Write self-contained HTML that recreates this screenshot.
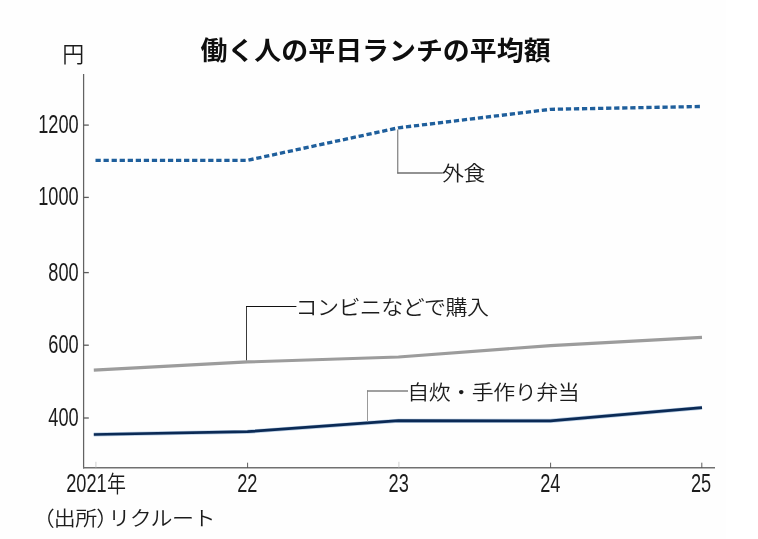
<!DOCTYPE html>
<html lang="ja">
<head>
<meta charset="utf-8">
<title>働く人の平日ランチの平均額</title>
<style>
  html, body { margin: 0; padding: 0; background: #ffffff; }
  body { width: 758px; height: 539px; overflow: hidden; }
  svg { display: block; will-change: transform; }
  .jp   { font-family: "Liberation Sans", "Noto Sans CJK JP", sans-serif; }
  .ttl  { font-weight: 700; font-size: 26.95px; fill: #0e0e0e; }
  .lbl  { font-weight: 350; font-size: 22px; letter-spacing: -0.5px; fill: #1c1c1c; }
  .num  { font-family: "Liberation Sans", sans-serif; font-size: 25px; fill: #1c1c1c; }
</style>
</head>
<body>
<svg width="758" height="539" viewBox="0 0 758 539">
  <rect x="0" y="0" width="758" height="539" fill="#ffffff"/>
  <rect x="0" y="0" width="725.5" height="539" fill="#fefefe"/>

  <!-- title -->
  <text class="jp ttl" transform="translate(200.5,59.6) scale(1,0.95)">働く人の平日ランチの平均額</text>

  <!-- unit -->
  <text class="jp lbl" transform="translate(62.2,62.3) scale(1,0.98)">円</text>

  <!-- axes -->
  <line x1="83.6" y1="74" x2="83.6" y2="468.6" stroke="#626262" stroke-width="1.25"/>
  <line x1="83" y1="467.8" x2="715" y2="467.8" stroke="#707070" stroke-width="1.6"/>
  <!-- y ticks -->
  <g stroke="#5c5c5c" stroke-width="1.3">
    <line x1="83.6" y1="125.1" x2="88.8" y2="125.1"/>
    <line x1="83.6" y1="197.4" x2="88.8" y2="197.4"/>
    <line x1="83.6" y1="272.6" x2="88.8" y2="272.6"/>
    <line x1="83.6" y1="345.2" x2="88.8" y2="345.2"/>
    <line x1="83.6" y1="418"   x2="88.8" y2="418"/>
  </g>
  <!-- x ticks -->
  <g stroke-width="0.8">
    <line x1="95.9"  y1="461.8" x2="95.9"  y2="467.6" stroke="#c4c4c4"/>
    <line x1="247.6" y1="462.7" x2="247.6" y2="467.6" stroke="#333"/>
    <line x1="398.9" y1="461.8" x2="398.9" y2="467.6" stroke="#c4c4c4"/>
    <line x1="550.6" y1="462.7" x2="550.6" y2="467.6" stroke="#333"/>
    <line x1="701.8" y1="462.7" x2="701.8" y2="467.6" stroke="#333"/>
  </g>

  <!-- y labels -->
  <g class="num" text-anchor="end">
    <text transform="translate(78.7,132.8) scale(0.728,1)">1200</text>
    <text transform="translate(78.7,205.4) scale(0.728,1)">1000</text>
    <text transform="translate(78.7,280.5) scale(0.728,1)">800</text>
    <text transform="translate(78.7,352.9) scale(0.728,1)">600</text>
    <text transform="translate(78.7,425.7) scale(0.728,1)">400</text>
  </g>

  <!-- x labels -->
  <g class="num" text-anchor="middle">
    <text transform="translate(247.3,492.2) scale(0.728,1)">22</text>
    <text transform="translate(398.7,492.2) scale(0.728,1)">23</text>
    <text transform="translate(550.3,492.2) scale(0.728,1)">24</text>
    <text transform="translate(701.1,492.2) scale(0.728,1)">25</text>
  </g>
  <text class="num" transform="translate(66.2,492.2) scale(0.728,1)">2021</text>
  <text class="jp lbl" style="font-size:23px;letter-spacing:0" transform="translate(107,491.6) scale(0.826,1)">年</text>

  <!-- source -->
  <text class="jp lbl" transform="translate(0,525.9) scale(1,0.93)"><tspan x="32.8">（</tspan><tspan x="53.7">出所</tspan><tspan x="96.2">）</tspan><tspan x="108.2">リクルート</tspan></text>

  <!-- series -->
  <polyline points="95,160.3 247.5,160.3 398.5,127.8 550.5,109.3 700.1,106.5"
            fill="none" stroke="#1f5f9c" stroke-width="3.35" stroke-dasharray="5.25 2.8" stroke-dashoffset="-0.5" stroke-linejoin="round"/>
  <polyline points="93.8,370.1 247.5,361.9 398.5,357 550.5,345.6 702,337.4"
            fill="none" stroke="#9c9c9c" stroke-width="3.1" stroke-linejoin="round"/>
  <polyline points="93.8,434.5 247.5,431.7 398.5,420.7 550.5,420.9 702,407.7"
            fill="none" stroke="#4a7fb8" stroke-opacity="0.4" stroke-width="4.1" stroke-linejoin="round"/>
  <polyline points="93.8,434.5 247.5,431.7 398.5,420.7 550.5,420.9 702,407.7"
            fill="none" stroke="#0b2a55" stroke-width="2.7" stroke-linejoin="round"/>

  <!-- leaders -->
  <line x1="397.75" y1="129.5" x2="397.75" y2="173.6" stroke="#787878" stroke-width="1.15"/>
  <line x1="397.3" y1="173" x2="442.8" y2="173" stroke="#6e6e6e" stroke-width="1.4"/>
  <line x1="246.5" y1="360.3" x2="246.5" y2="306" stroke="#3a3a3a" stroke-width="1"/>
  <line x1="246" y1="306.5" x2="296.4" y2="306.5" stroke="#111" stroke-width="1"/>
  <line x1="367.5" y1="421.5" x2="367.5" y2="390.4" stroke="#9a9a9a" stroke-width="1"/>
  <line x1="367" y1="391" x2="408" y2="391" stroke="#808080" stroke-width="1.4"/>

  <!-- series labels -->
  <text class="jp lbl" transform="translate(441.9,181.1) scale(1,0.93)">外食</text>
  <text class="jp lbl" transform="translate(295.4,314.9) scale(1,0.93)">コンビニなどで購入</text>
  <text class="jp lbl" transform="translate(407.3,399.8) scale(1,0.93)">自炊・手作り弁当</text>
</svg>
</body>
</html>
